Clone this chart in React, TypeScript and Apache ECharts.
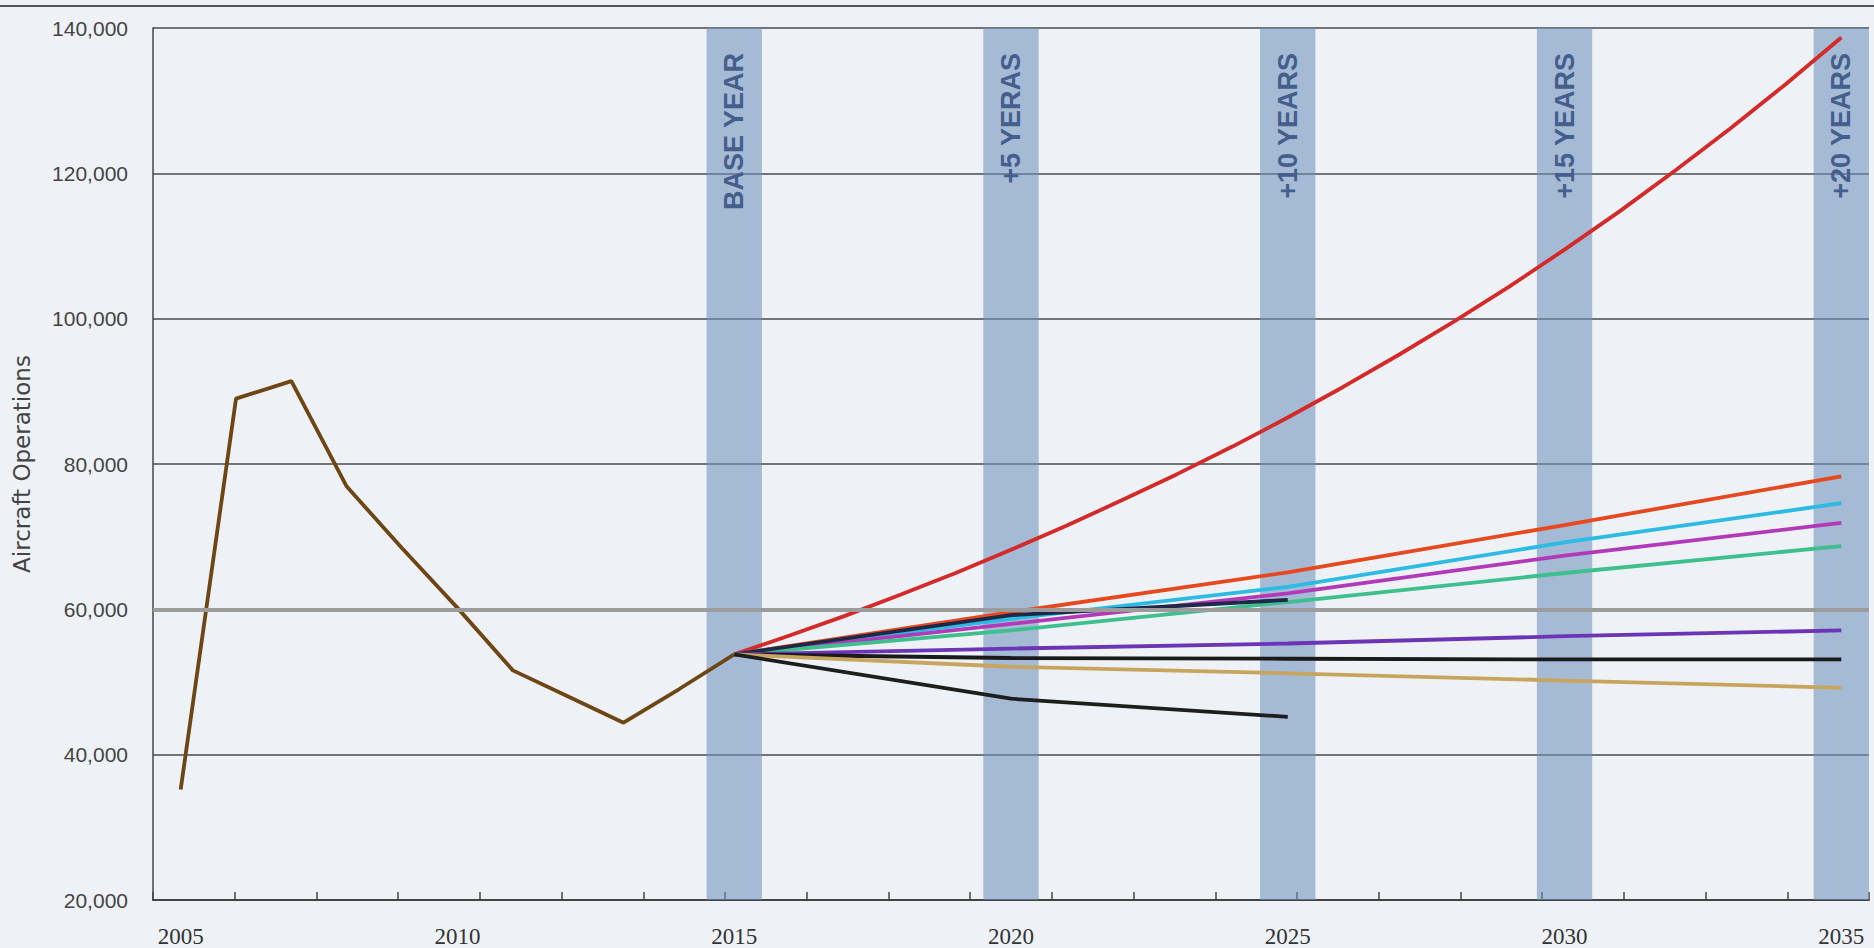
import React, { useEffect, useRef } from "react";
import * as echarts from "echarts";

const years: string[] = [];
for (let y = 2005; y <= 2035; y++) years.push(String(y));

const historicYears = [2005, 2006, 2007, 2008, 2009, 2010, 2011, 2012, 2013, 2014, 2015];
const historicValues = [35200, 89000, 91400, 76900, 68400, 60200, 51600, 48000, 44400, 49000, 53800];

const redHighYears = [2015, 2016, 2017, 2018, 2019, 2020, 2021, 2022, 2023, 2024, 2025, 2026, 2027, 2028, 2029, 2030, 2031, 2032, 2033, 2034, 2035];
const redHighValues = [53800, 56400, 59100, 62000, 65000, 68200, 71500, 75000, 78600, 82400, 86400, 90600, 95000, 99600, 104400, 109500, 114800, 120400, 126200, 132300, 138700];

const milestoneYears = [2015, 2020, 2025, 2030, 2035];
const orangeValues = [53800, 59600, 65100, 71600, 78300];
const cyanValues = [53800, 58700, 63100, 69200, 74600];
const magentaValues = [53800, 58000, 62200, 67400, 71900];
const greenValues = [53800, 57100, 61000, 65000, 68700];
const purpleValues = [53800, 54600, 55300, 56300, 57100];
const blackFlatValues = [53800, 53300, 53200, 53100, 53100];
const tanValues = [53800, 52100, 51200, 50200, 49200];

const shortYears = [2015, 2020, 2025];
const navyShortValues = [53800, 59200, 61300];
const blackDeclineValues = [53800, 47700, 45200];

const bandYears = [2015, 2020, 2025, 2030, 2035];
const bandLabels = ["BASE YEAR", "+5 YERAS", "+10 YEARS", "+15 YEARS", "+20 YEARS"];
const bandTop = 140000;

const yTicks = { min: 20000, max: 140000, interval: 20000 };

function toSeries(ys: number[], vs: number[]) {
  return years.map((y) => {
    const i = ys.indexOf(Number(y));
    return i >= 0 ? vs[i] : null;
  });
}

export default function App() {
  const ref = useRef<HTMLDivElement>(null);
  useEffect(() => {
    if (!ref.current) return;
    const chart = echarts.init(ref.current, undefined, { renderer: "svg" });

    const bandData = years.map((y) => {
      const i = bandYears.indexOf(Number(y));
      return i >= 0 ? { value: bandTop, name: bandLabels[i] } : null;
    });

    const line = (name: string, color: string, data: (number | null)[], width = 3.8) => ({
      name,
      type: "line",
      data,
      connectNulls: true,
      showSymbol: false,
      symbol: "none",
      z: 3,
      lineStyle: { color, width },
      itemStyle: { color },
    });

    chart.setOption({
      animation: false,
      backgroundColor: "#eef2f6",
      grid: { left: 153, right: 5, top: 28, bottom: 46, containLabel: false },
      xAxis: [
        {
          type: "category",
          data: years,
          boundaryGap: true,
          axisLine: { show: true, lineStyle: { color: "#444", width: 2 } },
          axisTick: { show: false },
          axisLabel: {
            interval: 4,
            margin: 25,
            fontFamily: "Liberation Serif",
            fontSize: 23,
            color: "#333",
          },
          splitLine: { show: false },
        },
        {
          type: "value",
          min: 0,
          max: 21,
          interval: 1,
          position: "bottom",
          axisLine: { show: false },
          axisTick: { show: true, inside: true, length: 8, lineStyle: { color: "#444", width: 1.5 } },
          axisLabel: { show: false },
          splitLine: { show: false },
        },
      ],
      yAxis: {
        type: "value",
        min: yTicks.min,
        max: yTicks.max,
        interval: yTicks.interval,
        name: "Aircraft Operations",
        nameLocation: "middle",
        nameGap: 120,
        nameTextStyle: { fontFamily: "DejaVu Sans", fontSize: 23, color: "#444" },
        axisLine: { show: true, lineStyle: { color: "#444", width: 1.5 } },
        axisTick: { show: false },
        axisLabel: {
          margin: 25,
          fontFamily: "Liberation Sans",
          fontSize: 21,
          color: "#444",
          formatter: (v: number) => v.toLocaleString("en-US"),
        },
        splitLine: { show: true, lineStyle: { color: "#4a4a4a", width: 1.5 } },
      },
      graphic: [
        {
          type: "line",
          shape: { x1: 0, y1: 6, x2: 1874, y2: 6 },
          style: { stroke: "#555", lineWidth: 2 },
          silent: true,
        },
      ],
      series: [
        {
          name: "bands",
          type: "bar",
          data: bandData,
          barWidth: "100%",
          z: 1,
          silent: true,
          itemStyle: { color: "rgba(110,145,190,0.58)" },
          label: {
            show: true,
            position: "insideTop",
            rotate: 90,
            align: "right",
            verticalAlign: "middle",
            distance: 25,
            formatter: (p: any) => p.name,
            fontFamily: "Liberation Sans",
            fontWeight: "bold",
            fontSize: 27,
            color: "#445f8c",
          },
          markLine: {
            silent: true,
            symbol: "none",
            label: { show: false },
            lineStyle: { color: "#9c9c9c", width: 4, type: "solid" },
            data: [{ yAxis: 60000 }],
          },
        },
        line("Historic", "#6e4614", toSeries(historicYears, historicValues), 3.8),
        line("High", "#d42a2a", toSeries(redHighYears, redHighValues)),
        line("Orange", "#e8481e", toSeries(milestoneYears, orangeValues)),
        line("Cyan", "#2bbbe3", toSeries(milestoneYears, cyanValues)),
        line("Magenta", "#b23ab8", toSeries(milestoneYears, magentaValues)),
        line("Green", "#3dbf8e", toSeries(milestoneYears, greenValues)),
        line("Short", "#1f2848", toSeries(shortYears, navyShortValues)),
        line("Purple", "#6b35b5", toSeries(milestoneYears, purpleValues)),
        line("Flat", "#1a1a1a", toSeries(milestoneYears, blackFlatValues)),
        line("Tan", "#c8a55e", toSeries(milestoneYears, tanValues)),
        line("Decline", "#1e1e1e", toSeries(shortYears, blackDeclineValues)),
      ],
    });
    return () => chart.dispose();
  }, []);

  return (
    <div
      ref={ref}
      style={{ position: "fixed", left: 0, top: 0, width: 1874, height: 948, background: "#eef2f6" }}
    />
  );
}
